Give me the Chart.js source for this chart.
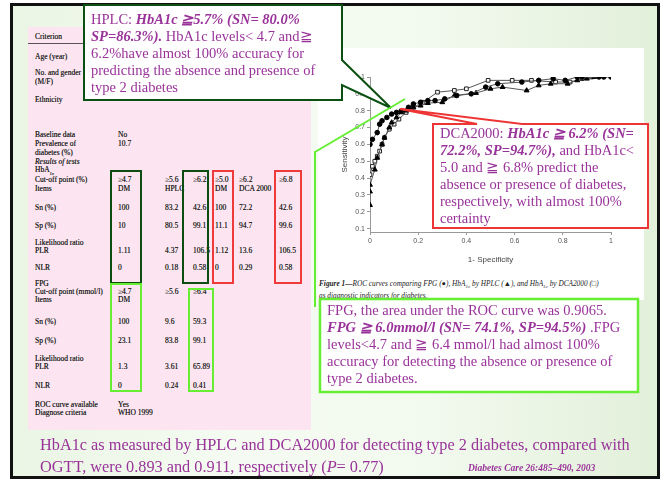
<!DOCTYPE html>
<html><head><meta charset="utf-8">
<script src="https://cdn.jsdelivr.net/npm/chart.js@4"></script>
<style>
html,body{margin:0;padding:0;width:665px;height:485px;overflow:hidden;background:#fff;}
.abs{position:absolute}
#frame{left:10px;top:3px;width:650px;height:476px;box-sizing:border-box;border:3px solid #111;
 background:linear-gradient(90deg,#eaf5e4 0%,#f5fbf2 35%,#f2f9ee 65%,#e2f0da 100%);}
#pink{left:28px;top:27px;width:283px;height:403px;background:#fce5f0}
#white{left:318px;top:48px;width:326px;height:252px;background:#fff}
.tt{position:absolute;font-family:"Liberation Serif","Times New Roman",serif;font-size:7.5px;color:#222;white-space:nowrap;line-height:1;transform:translateY(-50%);text-shadow:0 0 0.3px #555}
.rb{position:absolute;box-sizing:border-box;border:2px solid}
.box{position:absolute;font-family:"Liberation Serif","Times New Roman",serif;color:#993399;white-space:nowrap;font-size:14.5px;line-height:17px}
.bi{font-weight:bold;font-style:italic}
#cap{left:319px;top:279px;font-family:"Liberation Serif",serif;font-style:italic;font-size:7.3px;line-height:9px;color:#222;white-space:nowrap}
</style></head>
<body>
<div id="frame" class="abs"></div>
<div id="pink" class="abs"></div>
<div id="white" class="abs"></div>
<div id="table"></div>
<canvas id="roc" class="abs" style="left:340px;top:65px" width="290" height="200"></canvas>
<div id="cap" class="abs"><b>Figure 1—</b>ROC curves comparing FPG (●), HbA<sub style="font-size:5px">1c</sub> by HPLC (▲), and HbA<sub style="font-size:5px">1c</sub> by DCA2000 (□)<br>as diagnostic indicators for diabetes.</div>
<svg class="abs" style="left:0;top:0" width="665" height="485">
 <path d="M84,5 L342,5 L342,60 L391,108 L342,85 L342,100 L84,100 Z" fill="#fff" stroke="#0b5012" stroke-width="2"/>
 <path d="M433,124 L477,124 L400,109 L522,124 L648,124 L648,228 L433,228 Z" fill="#fff" stroke="#ee3535" stroke-width="2"/>
 <rect x="320" y="299" width="318" height="93" fill="#fff" stroke="#66ee33" stroke-width="2.5"/>
 <polyline points="315,307 315,152 405,99" fill="none" stroke="#66ee33" stroke-width="2"/>
</svg>
<div class="box" style="left:91px;top:11px"><span>HPLC: </span><span class="bi">HbA1c ≧5.7% (SN= 80.0%</span><br><span class="bi">SP=86.3%).</span> HbA1c levels&lt; 4.7 and≧<br>6.2%have almost 100% accuracy for<br>predicting the absence and presence of<br>type 2 diabetes</div>
<div class="box" style="left:440px;top:125px">DCA2000: <span class="bi">HbA1c ≧ 6.2% (SN=</span><br><span class="bi">72.2%, SP=94.7%),</span> and HbA1c&lt;<br>5.0 and ≧ 6.8% predict the<br>absence or presence of diabetes,<br>respectively, with almost 100%<br>certainty</div>
<div class="box" style="left:327px;top:302px">FPG, the area under the ROC curve was 0.9065.<br><span class="bi">FPG ≧ 6.0mmol/l (SN= 74.1%, SP=94.5%)</span> .FPG<br>levels&lt;4.7 and ≧ 6.4 mmol/l had almost 100%<br>accuracy for detecting the absence or presence of<br>type 2 diabetes.</div>
<div class="box" style="left:40px;top:434px;font-size:16.3px;line-height:22px">HbA1c as measured by HPLC and DCA2000 for detecting type 2 diabetes, compared with<br>OGTT, were 0.893 and 0.911, respectively (<i>P</i>= 0.77)</div>
<div class="box bi" style="left:468px;top:462px;font-size:9.5px;line-height:12px">Diabetes Care 26:485–490, 2003</div>
<script>
// ROC data (1 - specificity, sensitivity)
const fpgFPR  = [0.00,0.01,0.03,0.04,0.05,0.07,0.09,0.11,0.13,0.16,0.18,0.21,0.24,0.27,0.31,0.36,0.42,0.48,0.53,0.63,0.70,0.76,0.81,0.86,0.88,0.95,0.97,1.00];
const fpgSens = [0.60,0.63,0.67,0.72,0.74,0.76,0.78,0.79,0.80,0.82,0.84,0.85,0.86,0.86,0.87,0.89,0.90,0.94,0.96,0.97,0.98,0.99,0.98,1.00,1.00,1.00,1.00,1.00];
const hplcFPR  = [0.00,0.00,0.00,0.02,0.03,0.05,0.06,0.08,0.09,0.11,0.13,0.15,0.18,0.21,0.24,0.30,0.35,0.44,0.50,0.55,0.65,0.70,0.75,0.82,0.86,0.90,0.93];
const hplcSens = [0.24,0.32,0.36,0.45,0.52,0.60,0.64,0.70,0.73,0.76,0.79,0.80,0.82,0.83,0.845,0.85,0.89,0.905,0.93,0.94,0.92,0.95,0.96,0.96,0.98,0.99,1.00];
const dcaFPR  = [0.00,0.01,0.02,0.03,0.04,0.05,0.06,0.08,0.10,0.12,0.15,0.18,0.22,0.28,0.35,0.40,0.49,0.59,0.67,0.77,0.83,0.88,0.92];
const dcaSens = [0.42,0.47,0.50,0.53,0.56,0.60,0.64,0.69,0.72,0.75,0.79,0.82,0.85,0.91,0.92,0.93,0.98,0.98,0.98,0.97,0.97,0.99,1.00];
const xTickValues = [0,0.2,0.4,0.6,0.8,1];
const yTickValues = [0.1,0.2,0.3,0.4,0.5,0.6,0.7,0.8,0.9,1];
const xTitle = '1- Specificity';
const yTitle = 'Sensitivity';

// table text (label column + value columns)
const tbl = document.getElementById('table');
function t(x,y,s){const d=document.createElement('div');d.className='tt';d.style.left=x+'px';d.style.top=y+'px';d.innerHTML=s;tbl.appendChild(d);}
const L=35, C=[118,165,193,215,239,279];
t(L,37,'Criterion');
const ln=document.createElement('div');ln.className='abs';ln.style.cssText='left:28px;top:43px;width:56px;height:1px;background:#555';tbl.appendChild(ln);
t(L,57,'Age (year)');t(L,73,'No. and gender');t(L,82,'(M/F)');t(L,100,'Ethnicity');
t(L,135,'Baseline data');t(C[0],135,'No');t(L,144,'Prevalence of');t(C[0],144,'10.7');t(L,153,'diabetes (%)');
t(L,162,'<i>Results of tests</i>');t(L,171,'HbA<sub style="font-size:5px">1c</sub>');
t(L,180,'Cut-off point (%)');['≥4.7','≥5.6','≥6.2','≥5.0','≥6.2','≥6.8'].forEach((v,i)=>t(C[i],180,v));
t(L,189,'Items');t(C[0],189,'DM');t(C[1],189,'HPLC');t(C[3],189,'DM');t(C[4],189,'DCA 2000');
t(L,208,'Sn (%)');['100','83.2','42.6','100','72.2','42.6'].forEach((v,i)=>t(C[i],208,v));
t(L,226,'Sp (%)');['10','80.5','99.1','11.1','94.7','99.6'].forEach((v,i)=>t(C[i],226,v));
t(L,243,'Likelihood ratio');t(L,251,'PLR');['1.11','4.37','106.5','1.12','13.6','106.5'].forEach((v,i)=>t(C[i],251,v));
t(L,268,'NLR');['0','0.18','0.58','0','0.29','0.58'].forEach((v,i)=>t(C[i],268,v));
t(L,284,'FPG');t(L,292,'Cut-off point (mmol/l)');['≥4.7','≥5.6','≥6.4'].forEach((v,i)=>t(C[i],292,v));
t(L,300,'Items');t(C[0],300,'DM');
t(L,322,'Sn (%)');['100','9.6','59.3'].forEach((v,i)=>t(C[i],322,v));
t(L,341,'Sp (%)');['23.1','83.8','99.1'].forEach((v,i)=>t(C[i],341,v));
t(L,359,'Likelihood ratio');t(L,367,'PLR');['1.3','3.61','65.89'].forEach((v,i)=>t(C[i],367,v));
t(L,386,'NLR');['0','0.24','0.41'].forEach((v,i)=>t(C[i],386,v));
t(L,405,'ROC curve available');t(C[0],405,'Yes');t(L,413,'Diagnose criteria');t(C[0],413,'WHO 1999');
function rb(x,y,w,h,c){const d=document.createElement('div');d.className='rb';d.style.cssText+=`left:${x}px;top:${y}px;width:${w}px;height:${h}px;border-color:${c}`;tbl.appendChild(d);}
rb(110,170,32,114,'#0d4d12');rb(182,170,27,114,'#0d4d12');rb(212,170,22,114,'#ee3a3a');rb(274,170,28,114,'#ee3a3a');
rb(110,283,32,109,'#66ee33');rb(188,288,26,104,'#66ee33');

const zip=(a,b)=>a.map((x,i)=>({x:x,y:b[i]}));
const base={showLine:true,borderColor:'#555',borderWidth:1,pointBorderWidth:1};
new Chart(document.getElementById('roc'),{
 type:'scatter',
 data:{datasets:[
  Object.assign({label:'FPG',data:zip(fpgFPR,fpgSens),pointStyle:'circle',pointRadius:2.3,pointBackgroundColor:'#000',pointBorderColor:'#000'},base),
  Object.assign({label:'HbA1c HPLC',data:zip(hplcFPR,hplcSens),pointStyle:'triangle',pointRadius:2.8,pointBackgroundColor:'#000',pointBorderColor:'#000'},base),
  Object.assign({label:'HbA1c DCA2000',data:zip(dcaFPR,dcaSens),pointStyle:'rect',pointRadius:2.6,pointBackgroundColor:'#fff',pointBorderColor:'#222'},base)
 ]},
 options:{
  responsive:false,animation:false,
  layout:{padding:{left:0,right:19,top:12,bottom:0}},
  plugins:{legend:{display:false},tooltip:{enabled:false}},
  scales:{
   x:{type:'linear',min:0,max:1,
      afterFit:s=>{s.height=33;},
      afterBuildTicks:s=>{s.ticks=xTickValues.map(v=>({value:v}));},
      ticks:{font:{family:'Liberation Sans',size:7},color:'#555',padding:2,callback:v=>String(v)},
      grid:{display:true,drawOnChartArea:false,tickLength:3,color:'#999'},
      border:{color:'#999'},
      title:{display:true,text:xTitle,font:{family:'Liberation Sans',size:8},color:'#444',padding:{top:3,bottom:0}}},
   y:{type:'linear',min:0.08,max:1,
      afterFit:s=>{s.width=30;},
      afterBuildTicks:s=>{s.ticks=yTickValues.map(v=>({value:v}));},
      ticks:{font:{family:'Liberation Sans',size:7},color:'#555',padding:2,callback:v=>v===1?'1':v.toFixed(1)},
      grid:{display:true,drawOnChartArea:false,tickLength:3,color:'#999'},
      border:{color:'#999'},
      title:{display:true,text:yTitle,font:{family:'Liberation Sans',size:8},color:'#444',padding:{top:0,bottom:2}}}
  }
 }
});
</script>
</body></html>
